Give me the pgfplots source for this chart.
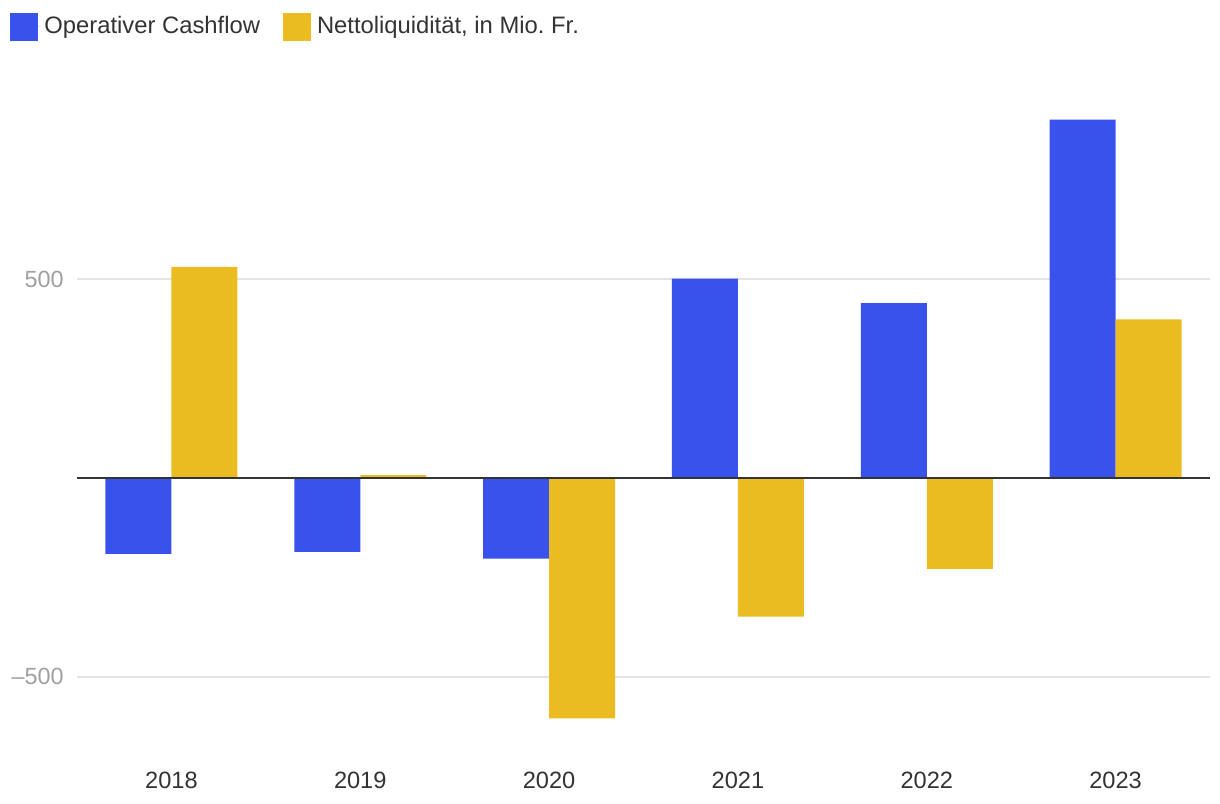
\documentclass[border=0pt]{standalone}
\usepackage{pgfplots}
\pgfplotsset{compat=1.18}
\usetikzlibrary{calc}
\usepackage{fontspec}
\setmainfont{Liberation Sans}
\frenchspacing
\definecolor{cfblue}{HTML}{3A52EC}
\definecolor{nlyellow}{HTML}{EBBC22}
\definecolor{gridgray}{HTML}{E3E3E3}
\definecolor{ticklab}{HTML}{A0A0A0}
\definecolor{darktext}{HTML}{333333}
\begin{document}
\begin{tikzpicture}
\begin{axis}[name=ax, scale only axis, width=566.5pt, height=317.9pt,
  xmin=-0.5, xmax=5.5, ymin=-650, ymax=950,
  axis line style={draw=none},
  tick style={draw=none},
  ytick={-500,500}, yticklabels={\textendash500,500},
  ymajorgrids, grid style={gridgray, line width=0.9pt},
  xtick={0,1,2,3,4,5}, xticklabels={2018,2019,2020,2021,2022,2023},
  ybar=0pt, bar width=33pt,
  yticklabel style={font=\fontsize{11.7}{14}\selectfont, text=ticklab, xshift=-3.1pt},
  xticklabel style={font=\fontsize{11.8}{14}\selectfont, text=darktext, yshift=-10.1pt},
  clip=false,
  legend columns=2,
  legend style={at={(rel axis cs:0,1)}, anchor=north west, xshift=-33.5pt, yshift=44.25pt,
    draw=none, fill=none, inner sep=0pt, font=\fontsize{11.9}{14}\selectfont, text=darktext,
    /tikz/every even column/.append style={column sep=9.5pt}},
  legend image code/.code={\fill[#1] (0pt,-7pt) rectangle (14pt,7pt); \path (0pt,0pt) -- (15pt,0pt);},
]
\addplot[fill=cfblue, draw=none] coordinates {(0,-191) (1,-186) (2,-203) (3,502) (4,440) (5,902)};
\addplot[fill=nlyellow, draw=none] coordinates {(0,531) (1,7) (2,-605) (3,-349) (4,-229) (5,399)};
\legend{Operativer Cashflow, {Nettoliquidität, in Mio. Fr.}}
\draw[darktext, line width=1pt] (axis cs:-0.5,0) -- (axis cs:5.5,0);
\end{axis}
\pgfresetboundingbox
\path (ax.south west) ++(-38.5pt,-33.85pt) rectangle ($(ax.north east)+(5pt,50.25pt)$);
\end{tikzpicture}
\end{document}
